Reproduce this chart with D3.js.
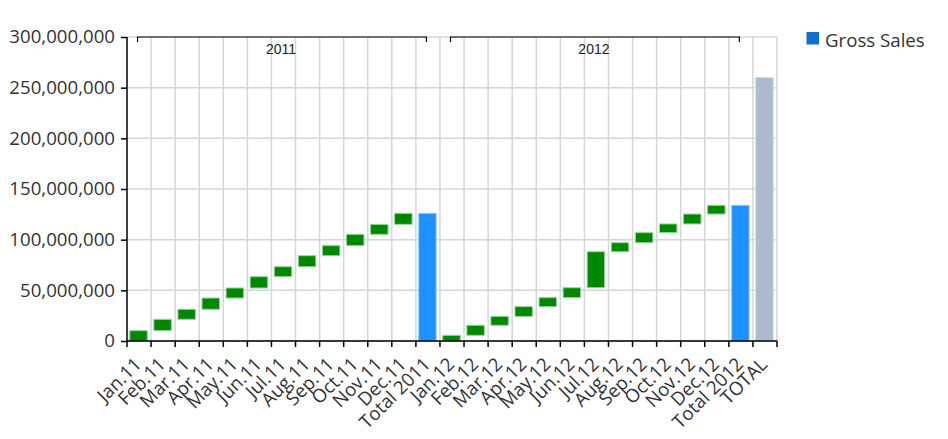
<!DOCTYPE html>
<html>
<head>
<meta charset="utf-8">
<script src="https://cdn.jsdelivr.net/npm/d3@7"></script>
<style>
  html, body { margin: 0; padding: 0; background: #fff; }
  svg { display: block; }
</style>
</head>
<body>
<svg id="chart" width="948" height="439"></svg>
<script>
// ---- data ----
const categories = ["Jan.11","Feb.11","Mar.11","Apr.11","May.11","Jun.11","Jul.11","Aug.11","Sep.11","Oct.11","Nov.11","Dec.11","Total 2011",
                    "Jan.12","Feb.12","Mar.12","Apr.12","May.12","Jun.12","Jul.12","Aug.12","Sep.12","Oct.12","Nov.12","Dec.12","Total 2012","TOTAL"];
const kinds = ["m","m","m","m","m","m","m","m","m","m","m","m","sub",
               "m","m","m","m","m","m","m","m","m","m","m","m","sub","total"];
const monthly2011 = [10.2e6, 11.2e6, 9.9e6, 11.1e6, 9.9e6, 11.2e6, 9.8e6, 10.9e6, 9.9e6, 11.2e6, 9.8e6, 10.9e6];
const monthly2012 = [5.6e6, 9.9e6, 8.8e6, 9.6e6, 8.9e6, 9.8e6, 35.5e6, 8.9e6, 9.9e6, 8.6e6, 9.8e6, 8.6e6];
const groups = [
  {label: "2011", first: "Jan.11", last: "Total 2011"},
  {label: "2012", first: "Jan.12", last: "Total 2012"}
];
const yTicks = [0, 50e6, 100e6, 150e6, 200e6, 250e6, 300e6];
const legendLabel = "Gross Sales";

// ---- build waterfall segments ----
const bars = [];
let idx = 0;
let grand = 0;
[monthly2011, monthly2012].forEach(arr => {
  let run = 0;
  arr.forEach(v => {
    bars.push({cat: categories[idx], kind: kinds[idx], y0: run, y1: run + v});
    run += v; idx++;
  });
  bars.push({cat: categories[idx], kind: kinds[idx], y0: 0, y1: run});
  grand += run; idx++;
});
bars.push({cat: categories[idx], kind: kinds[idx], y0: 0, y1: grand});

// ---- layout ----
const L = 127, R = 777, T = 37, B = 341;
const svg = d3.select("#chart");
const x = d3.scaleBand().domain(categories).range([L, R]).padding(0);
const y = d3.scaleLinear().domain([0, 300e6]).range([B, T]);
const bw = x.bandwidth();
const font = "'Open Sans', sans-serif";
const fs = 18.67;

// grid
const grid = svg.append("g").attr("stroke", "#d6d6d6").attr("stroke-width", 1.5);
yTicks.forEach(t => grid.append("line").attr("x1", L).attr("x2", R).attr("y1", y(t)).attr("y2", y(t)));
categories.forEach((c, i) => {
  const gx = x(c) + bw;
  grid.append("line").attr("x1", gx).attr("x2", gx).attr("y1", T).attr("y2", B);
});

// bars
const colors = {m: "#008800", sub: "#1E90FF", total: "#A9BBCC"};
const strokes = {m: "#9ad49a", sub: "#9ccaff", total: "#d3dde6"};
const barW = 17.5;
svg.append("g").selectAll("rect").data(bars).enter().append("rect")
  .attr("x", d => x(d.cat) + (bw - barW) / 2 - 0.5)
  .attr("width", barW)
  .attr("y", d => y(d.y1))
  .attr("height", d => y(d.y0) - y(d.y1))
  .attr("fill", d => colors[d.kind])
  .attr("stroke", d => strokes[d.kind])
  .attr("stroke-width", 1);

// y axis
const yAxis = svg.append("g").attr("transform", `translate(${L},0)`)
  .call(d3.axisLeft(y).tickValues(yTicks).tickFormat(d3.format(",")).tickSize(6).tickPadding(6));
yAxis.select(".domain").attr("stroke", "#000").attr("stroke-width", 1.5).attr("d", `M0,${T}V${B}`);
yAxis.selectAll(".tick line").attr("stroke", "#000").attr("stroke-width", 1.5);
yAxis.selectAll("text").attr("font-family", font).attr("font-size", fs).attr("fill", "#333");

// x axis
const xg = svg.append("g");
xg.append("line").attr("x1", L).attr("x2", R).attr("y1", B).attr("y2", B).attr("stroke", "#000").attr("stroke-width", 1.5);
[L].concat(categories.map(c => x(c) + bw)).forEach(px => {
  xg.append("line").attr("x1", px).attr("x2", px).attr("y1", B).attr("y2", B + 6).attr("stroke", "#000").attr("stroke-width", 1.5);
});
xg.selectAll("text.xl").data(categories).enter().append("text")
  .attr("class", "xl")
  .attr("transform", c => `translate(${x(c) + bw / 2 + 3.5},${B + 24.5}) rotate(-45)`)
  .attr("text-anchor", "end")
  .attr("font-family", font).attr("font-size", fs).attr("fill", "#333")
  .text(c => c);

// group brackets
const gg = svg.append("g");
groups.forEach(g => {
  const x1 = x(g.first) + bw / 2 - 1.5, x2 = x(g.last) + bw / 2 - 1.5;
  gg.append("path").attr("d", `M${x1},${T + 5}V${T}H${x2}V${T + 5}`)
    .attr("fill", "none").attr("stroke", "#000").attr("stroke-width", 1.2);
  gg.append("text").attr("x", (x1 + x2) / 2 - 1).attr("y", T + 16.5)
    .attr("text-anchor", "middle").attr("font-family", "'Liberation Sans', Arial, sans-serif")
    .attr("font-size", 14).attr("fill", "#222").text(g.label);
});

// legend
const lg = svg.append("g");
lg.append("rect").attr("x", 806.5).attr("y", 32).attr("width", 12.5).attr("height", 12.5).attr("fill", "#0E70C8");
lg.append("text").attr("x", 825).attr("y", 47).attr("font-family", font).attr("font-size", fs).attr("fill", "#333").text(legendLabel);
</script>
</body>
</html>
